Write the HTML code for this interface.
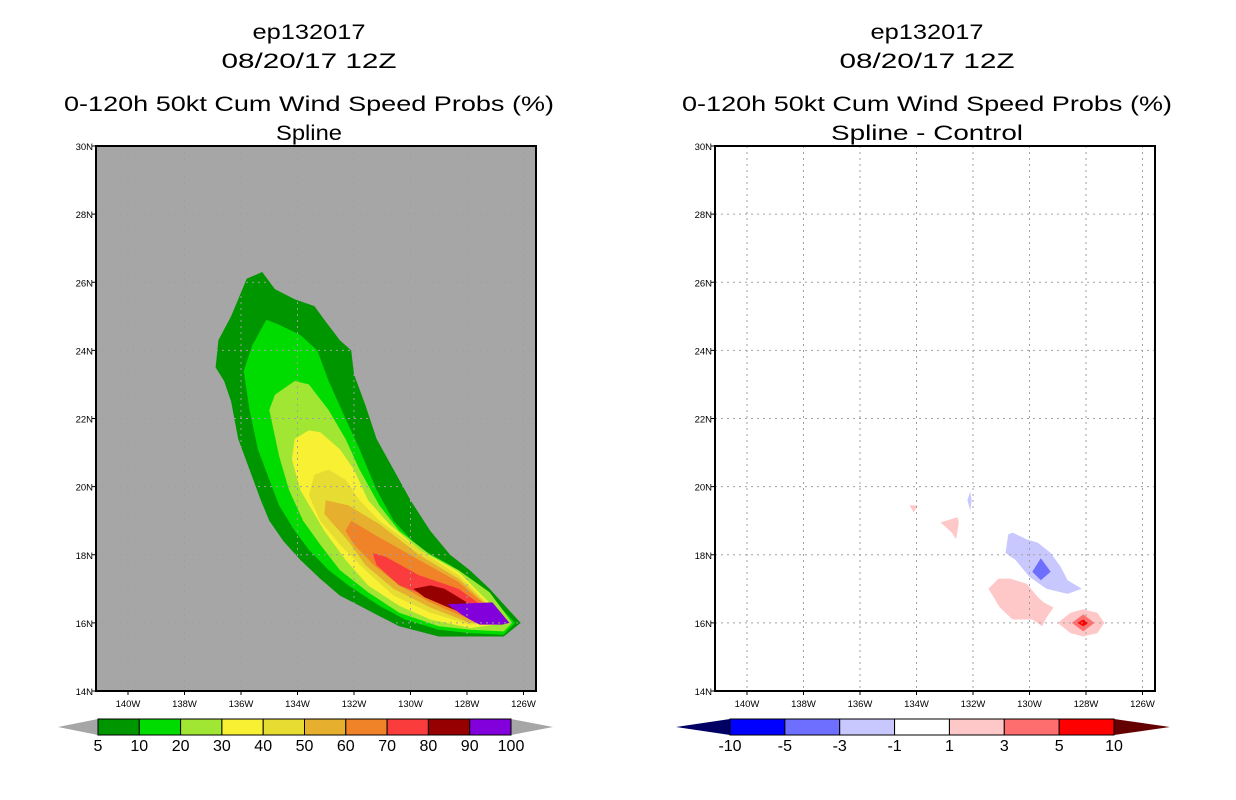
<!DOCTYPE html>
<html><head><meta charset="utf-8">
<style>
html,body{margin:0;padding:0;background:#fff;}
svg{display:block;font-family:"Liberation Sans",sans-serif;}
</style></head>
<body>
<svg id="c" width="1236" height="800" viewBox="0 0 1236 800" xmlns="http://www.w3.org/2000/svg"></svg>
<script>
// ---- data ----
const latTicks = [14,16,18,20,22,24,26,28,30];
const lonTicks = [140,138,136,134,132,130,128,126];
const leftLevels = ["5","10","20","30","40","50","60","70","80","90","100"];
const leftColors = ["#009600","#00dc00","#a0e632","#f8f032","#e6dc32","#e6af2d","#f08228","#fa3c3c","#960000","#8200dc"];
const rightLevels = ["-10","-5","-3","-1","1","3","5","10"];
const rightColors = ["#0000ff","#6e6eff","#c8c8ff","#ffffff","#ffc8c8","#ff6e6e","#ff0000"];
// contour polygons as [lonW, latN] pairs, filled from lowest to highest
const prob5 = [[135.8,26.1],[135.25,26.3],[134.8,25.8],[134.1,25.5],[133.4,25.3],[133.05,24.9],[132.5,24.3],[132.1,24.0],[132.0,23.3],[131.6,22.4],[131.2,21.4],[130.6,20.5],[130.0,19.6],[129.3,18.7],[128.6,18.0],[127.9,17.55],[127.2,17.0],[126.1,16.0],[126.7,15.6],[127.9,15.6],[129.0,15.6],[130.4,15.9],[131.1,16.2],[131.8,16.5],[132.5,16.8],[133.2,17.3],[133.9,17.85],[134.5,18.4],[135.0,19.0],[135.3,19.6],[135.7,20.5],[136.1,21.4],[136.35,22.5],[136.6,23.1],[136.9,23.5],[136.8,24.3],[136.35,25.0],[136.1,25.5],[135.9,25.9]];
const prob10 = [[135.1,24.9],[134.65,24.75],[133.9,24.45],[133.3,24.0],[132.9,23.1],[132.3,22.0],[131.8,21.1],[131.2,19.9],[130.6,19.0],[129.7,18.2],[128.6,17.7],[127.55,17.1],[126.3,16.0],[126.7,15.65],[127.9,15.7],[129.0,15.8],[130.2,16.1],[131.1,16.5],[132.2,17.1],[132.9,17.55],[133.6,18.15],[134.1,18.7],[134.65,19.45],[135.0,20.2],[135.4,21.1],[135.7,22.25],[135.9,23.4],[135.6,24.15]];
const prob20 = [[134.1,23.1],[133.6,23.0],[132.9,22.25],[132.3,21.4],[131.8,20.5],[131.1,19.45],[130.4,18.7],[129.3,18.0],[128.3,17.55],[127.2,16.9],[126.4,16.0],[126.7,15.75],[127.9,15.8],[129.0,15.9],[130.4,16.3],[131.5,16.9],[132.5,17.55],[133.2,18.3],[133.8,19.0],[134.3,19.9],[134.65,20.9],[135.0,22.25],[134.8,22.7]];
const prob30 = [[133.6,21.65],[133.2,21.6],[132.5,21.1],[132.0,20.5],[131.5,19.6],[130.75,18.9],[129.7,18.15],[128.3,17.5],[126.5,16.0],[127.9,15.85],[129.3,16.1],[130.4,16.5],[131.5,17.1],[132.3,17.85],[133.05,18.7],[133.9,19.9],[134.2,20.8],[134.1,21.4]];
const prob40 = [[133.4,20.35],[132.9,20.5],[132.3,20.2],[131.8,19.6],[131.1,19.0],[129.7,18.15],[128.3,17.4],[126.55,16.0],[127.9,15.95],[129.3,16.3],[130.6,16.8],[131.6,17.55],[132.5,18.3],[133.2,19.0],[133.6,19.75]];
const prob50 = [[133.0,19.6],[132.2,19.45],[131.1,18.9],[129.7,18.0],[128.3,17.3],[126.6,16.0],[127.9,16.0],[129.3,16.45],[130.6,17.0],[131.6,17.7],[132.2,18.4],[133.05,19.2]];
const prob60 = [[132.1,19.0],[131.3,18.6],[129.7,17.85],[128.3,17.2],[126.7,16.05],[127.9,16.1],[129.3,16.6],[130.4,17.1],[131.3,17.7],[132.0,18.3],[132.3,18.7]];
const prob70 = [[131.35,18.05],[130.9,17.95],[129.7,17.4],[128.3,17.0],[126.8,16.1],[127.9,16.15],[129.3,16.75],[130.4,17.1],[131.2,17.7]];
const prob80 = [[129.9,17.0],[129.3,17.1],[128.8,17.0],[128.3,16.75],[127.9,16.55],[127.0,16.5],[126.85,16.15],[127.9,16.2],[128.8,16.5],[129.5,16.75]];
const prob90 = [[128.7,16.55],[127.1,16.6],[126.5,16.0],[126.75,15.95],[127.55,15.95],[127.9,16.1],[128.2,16.25]];
const leftSeries = [prob5,prob10,prob20,prob30,prob40,prob50,prob60,prob70,prob80,prob90];
// difference (Spline - Control) polygons with their class index into rightColors
const diffPinkTiny = [[134.25,19.45],[133.95,19.45],[134.1,19.25]];
const diffBlueTiny = [[132.1,19.85],[132.05,19.6],[132.1,19.3],[132.2,19.6]];
const diffPinkTri = [[133.15,18.95],[132.55,19.1],[132.5,18.95],[132.6,18.45],[132.75,18.65]];
const diffBlueBlob = [[130.85,18.05],[130.75,18.6],[130.6,18.65],[130.1,18.45],[129.7,18.35],[129.25,18.05],[128.9,17.65],[128.65,17.25],[128.15,17.0],[128.65,16.85],[129.4,17.0],[130.0,17.35],[130.5,17.85]];
const diffBlueCore = [[129.6,17.9],[129.25,17.5],[129.6,17.25],[129.9,17.5]];
const diffPinkBlob = [[131.45,17.0],[131.1,17.3],[130.7,17.3],[130.1,17.15],[129.7,16.75],[129.5,16.6],[129.15,16.45],[129.4,16.15],[129.55,15.9],[129.9,16.1],[130.6,16.1],[131.05,16.45]];
const diffPinkEllipse = [[129.0,16.0],[128.55,16.3],[128.1,16.4],[127.6,16.3],[127.35,16.0],[127.6,15.7],[128.1,15.6],[128.55,15.7]];
const diffRedMid = [[128.5,16.0],[128.1,16.25],[127.7,16.0],[128.1,15.75]];
const diffRedCore = [[128.3,16.0],[128.1,16.1],[127.9,16.0],[128.1,15.9]];
const rightSeries = [diffPinkTiny,diffBlueTiny,diffPinkTri,diffBlueBlob,diffBlueCore,diffPinkBlob,diffPinkEllipse,diffRedMid,diffRedCore];
const rightClasses = [4,2,4,2,1,4,4,5,6];

// ---- layout ----
const NS="http://www.w3.org/2000/svg";
const svg=document.getElementById('c');
const Y0=691, Y1=146;
function yScale(lat){return Y0-(lat-14)*(Y0-Y1)/16;}
function xScale(lon,off){return off+128+(140-lon)*28.25;}
function mk(tag,attrs,parent){const e=document.createElementNS(NS,tag);for(const k in attrs)e.setAttribute(k,attrs[k]);(parent||svg).appendChild(e);return e;}
function pts(poly,off){return poly.map(p=>xScale(p[0],off).toFixed(1)+","+yScale(p[1]).toFixed(1)).join(" ");}

function titles(cx,last,name){
  const lines=[["ep132017",39,113],["08/20/17 12Z",68,175],["0-120h 50kt Cum Wind Speed Probs (%)",111,490],[last,140,last.length>8?192:66]];
  lines.forEach((l,i)=>{
    const t=mk('text',{x:cx,y:l[1],'text-anchor':'middle','font-size':21,textLength:l[2],lengthAdjust:'spacingAndGlyphs',fill:'#000'});
    
    
    t.textContent=l[0];
  });
}

function panel(off,bg,series,colorsFor,name){
  const g=mk('g',{});
  
  
  const L=96+off,R=536+off;
  const bgr=mk('rect',{x:L,y:Y1,width:R-L,height:Y0-Y1,fill:bg},g);
  
  
  const cp='clip'+off;
  const cl=mk('clipPath',{id:cp},g);mk('rect',{x:L,y:Y1,width:R-L,height:Y0-Y1},cl);
  const sg=mk('g',{'clip-path':'url(#'+cp+')'},g);
  series.forEach((poly,i)=>{
    const p=mk('polygon',{points:pts(poly,off),fill:colorsFor(i)},sg);
    
    
  });
  // gridlines
  lonTicks.forEach(lon=>{
    const x=xScale(lon,off);
    const gl=mk('line',{x1:x,x2:x,y1:Y1,y2:Y0,stroke:'#a0a0a0','stroke-width':1,'stroke-dasharray':'2,4'},g);
    
    
  });
  latTicks.slice(1,-1).forEach(lat=>{
    const y=yScale(lat);
    const gl=mk('line',{x1:L,x2:R,y1:y,y2:y,stroke:'#a0a0a0','stroke-width':1,'stroke-dasharray':'2,4'},g);
    
    
  });
  const fr=mk('rect',{x:L,y:Y1,width:R-L,height:Y0-Y1,fill:'none',stroke:'#000','stroke-width':2},g);
  
  
  latTicks.forEach(lat=>{
    const y=yScale(lat);
    mk('line',{x1:L-4,x2:L,y1:y,y2:y,stroke:'#000'},g);
    const t=mk('text',{x:L-3,y:y+4,'text-anchor':'end','font-size':9.5,fill:'#000'},g);
    
    
    t.textContent=lat+'N';
  });
  lonTicks.forEach(lon=>{
    const x=xScale(lon,off);
    mk('line',{x1:x,x2:x,y1:Y0,y2:Y0+4,stroke:'#000'},g);
    const t=mk('text',{x:x,y:Y0+16,'text-anchor':'middle','font-size':9.5,fill:'#000'},g);
    
    
    t.textContent=lon+'W';
  });
}

function colorbar(x0,x1,tipL,tipR,colors,levels,lowC,highC,name){
  const g=mk('g',{});
  
  
  const yt=719,yb=735,ym=727,w=(x1-x0)/colors.length;
  const a=mk('polygon',{points:`${tipL},${ym} ${x0},${yt} ${x0},${yb}`,fill:lowC},g);
  
  
  const b=mk('polygon',{points:`${tipR},${ym} ${x1},${yt} ${x1},${yb}`,fill:highC},g);
  
  
  colors.forEach((c,i)=>{
    const r=mk('rect',{x:x0+i*w,y:yt,width:w,height:yb-yt,fill:c,stroke:'#000','stroke-width':1},g);
    
    
  });
  levels.forEach((lv,i)=>{
    const t=mk('text',{x:x0+i*w,y:751,'text-anchor':'middle','font-size':16,fill:'#000'},g);
    
    
    t.textContent=lv;
  });
}

titles(309,"Spline","left");
titles(927,"Spline - Control","right");
panel(0,'#a6a6a6',leftSeries,i=>leftColors[i],'left-panel-spline');
panel(619,'#ffffff',rightSeries,i=>rightColors[rightClasses[i]],'right-panel-difference');
colorbar(98,511,58,553,leftColors,leftLevels,'#a6a6a6','#a6a6a6','left-colorbar');
colorbar(730,1114,676,1170,rightColors,rightLevels,'#000064','#640000','right-colorbar');
</script>
</body></html>
